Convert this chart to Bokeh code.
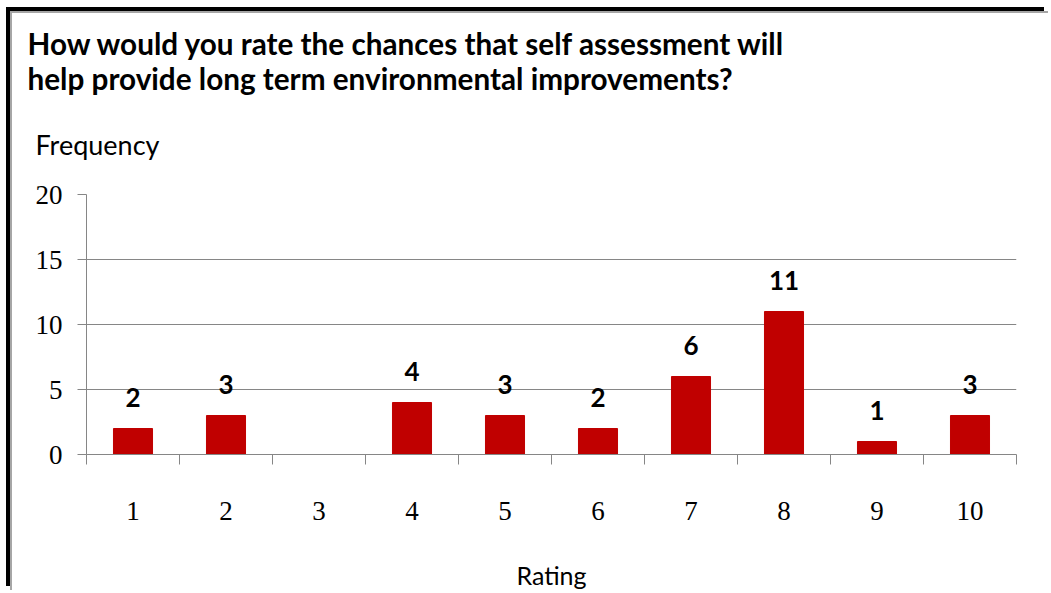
from bokeh.plotting import figure
from bokeh.models import ColumnDataSource, FixedTicker, LabelSet, Range1d, Title
from bokeh.core.properties import value
from bokeh.embed import file_html
from bokeh.resources import INLINE

# ---- data ----
ratings = [1, 2, 3, 4, 5, 6, 7, 8, 9, 10]
frequency = [2, 3, 0, 4, 3, 2, 6, 11, 1, 3]
y_ticks = [0, 5, 10, 15, 20]
title_lines = ["How would you rate the chances that self assessment will",
               "help provide long term environmental improvements?"]
y_title = "Frequency"
x_title = "Rating"

BAR = "#C00000"
GRID = "#868686"
SANS = "Lato"
SERIF = "Liberation Serif"

src = ColumnDataSource(dict(x=ratings, top=frequency))
lab_x = [r for r, f in zip(ratings, frequency) if f > 0]
lab_y = [f for f in frequency if f > 0]
lab_src = ColumnDataSource(dict(x=lab_x, y=lab_y, t=[str(v) for v in lab_y]))

p = figure(width=1038, height=579, output_backend="svg", toolbar_location=None,
           x_range=Range1d(0.5, 10.5), y_range=Range1d(0, 20),
           min_border_left=74, min_border_right=34, min_border_top=181,
           min_border_bottom=136)
p.outline_line_color = None
p.background_fill_color = "white"
p.border_fill_color = "white"

p.vbar(x="x", top="top", width=0.42, source=src, fill_color=BAR, line_color=BAR)

p.add_layout(LabelSet(x="x", y="y", text="t", source=lab_src, text_align="center",
                      text_baseline="alphabetic", y_offset=22,
                      text_font=value(SANS), text_font_style="bold",
                      text_font_size="26px", text_color="black"))

# axes
p.yaxis.ticker = FixedTicker(ticks=y_ticks)
p.yaxis.axis_line_color = GRID
p.yaxis.major_tick_line_color = GRID
p.yaxis.major_tick_out = 9
p.yaxis.major_tick_in = 0
p.yaxis.minor_tick_line_color = None
p.yaxis.major_label_standoff = 15
p.yaxis.major_label_text_font = SERIF
p.yaxis.major_label_text_font_size = "27px"
p.yaxis.major_label_text_color = "black"

p.xaxis.ticker = FixedTicker(ticks=ratings, minor_ticks=[r - 0.5 for r in ratings] + [ratings[-1] + 0.5])
p.xaxis.axis_line_color = GRID
p.xaxis.major_tick_out = 0
p.xaxis.major_tick_in = 0
p.xaxis.major_tick_line_color = None
p.xaxis.minor_tick_line_color = GRID
p.xaxis.minor_tick_out = 10
p.xaxis.minor_tick_in = 0
p.xaxis.major_label_standoff = 37
p.xaxis.major_label_text_font = SERIF
p.xaxis.major_label_text_font_size = "27px"
p.xaxis.major_label_text_color = "black"
p.xaxis.axis_label = x_title
p.xaxis.axis_label_standoff = 37
p.xaxis.axis_label_text_font = SANS
p.xaxis.axis_label_text_font_style = "normal"
p.xaxis.axis_label_text_font_size = "25px"
p.xaxis.axis_label_text_color = "black"

p.xgrid.grid_line_color = None
p.ygrid.ticker = FixedTicker(ticks=y_ticks)
p.ygrid.grid_line_color = GRID
p.ygrid.grid_line_width = 1

# titles (stacked above the plot: first added is closest to the frame)
p.add_layout(Title(text=y_title, align="left", offset=-51, standoff=68,
                   text_font=SANS, text_font_style="normal", text_font_size="27px",
                   text_color="black"), "above")
p.add_layout(Title(text=title_lines[1], align="left", offset=-59, standoff=-8,
                   text_font=SANS, text_font_style="bold", text_font_size="29.7px",
                   text_color="black"), "above")
p.add_layout(Title(text=title_lines[0], align="left", offset=-59, standoff=3,
                   text_font=SANS, text_font_style="bold", text_font_size="29.7px",
                   text_color="black"), "above")

p.styles = {"margin-left": "10px", "margin-top": "11px",
            "border-top": "2px solid #a6a6a6", "border-left": "2px solid #a6a6a6",
            "box-shadow": "-4px -4px 0 0 #000"}

open("out.html", "w").write(file_html(p, INLINE))
